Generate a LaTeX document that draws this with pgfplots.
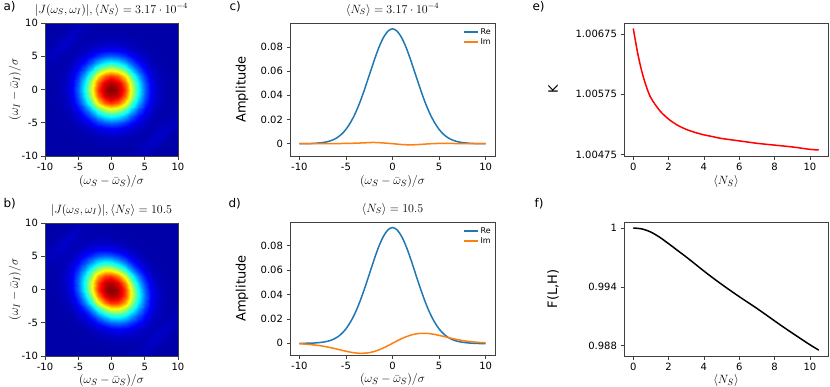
\documentclass[border=0pt]{standalone}
\usepackage[no-math]{fontspec}
\setmainfont{DejaVu Sans}
\usepackage{pgfplots}
\pgfplotsset{compat=1.18}
\definecolor{mplblue}{HTML}{1F77B4}
\definecolor{mplorange}{HTML}{FF7F0E}

\pgfplotsset{
  panel/.style={
    scale only axis, anchor=north west,
    axis line style={black!75, line width=0.6pt},
    tick style={black!75, line width=0.6pt},
    tick align=outside, major tick length=3.5pt,
    xtick pos=left, ytick pos=left,
    tick label style={font=\fontsize{10}{12}\selectfont},
    /pgf/number format/assume math mode=true,
    title style={font=\fontsize{11.5}{13}\selectfont, at={(axis description cs:0.5,1.03)}, anchor=base},
    xlabel style={font=\fontsize{12.5}{14}\selectfont, at={(axis description cs:0.5,-0.19)}, anchor=center},
    ylabel style={font=\fontsize{13}{15}\selectfont, anchor=center},
  },
  lower/.style={xlabel style={at={(axis description cs:0.5,-0.182)}}},
  heat/.style={panel, width=133pt, height=133pt, view={0}{90},
    xmin=-10, xmax=10, ymin=-10, ymax=10,
    xtick={-10,-5,0,5,10}, ytick={-10,-5,0,5,10},
    colormap/jet, point meta min=0, point meta max=1, axis on top,
    xlabel={$(\omega_S-\bar{\omega}_S)/\sigma$},
    ylabel={$(\omega_I-\bar{\omega}_I)/\sigma$},
    ylabel style={font=\fontsize{12.5}{14}\selectfont, at={(axis description cs:-0.226,0.5)}}},
  amp/.style={panel, width=205pt, height=133pt,
    xmin=-11, xmax=11, xtick={-10,-5,0,5,10},
    ytick={0,0.02,0.04,0.06,0.08}, yticklabels={0,0.02,0.04,0.06,0.08},
    scaled y ticks=false,
    xlabel={$(\omega_S-\bar{\omega}_S)/\sigma$}, ylabel={Amplitude},
    ylabel style={at={(axis description cs:-0.234,0.5)}},
    legend style={at={(axis description cs:0.995,0.985)}, anchor=north east, draw=none,
      fill=white, inner sep=1pt, row sep=-1pt, font=\fontsize{8}{9}\selectfont},
    legend cell align=left,
    legend image code/.code={\draw[##1, line width=1.9pt] (0pt,0pt) -- (14pt,0pt);}},
  ns/.style={panel, width=204pt, height=133pt,
    xmin=-0.525, xmax=11.025, xtick={0,2,4,6,8,10},
    xlabel={$\langle N_S\rangle$},
    ylabel style={at={(axis description cs:-0.348,0.5)}}},
}

\begin{document}
\begin{tikzpicture}
\useasboundingbox (0pt,0pt) rectangle (830pt,-386pt);

\node[font=\fontsize{12}{14}\selectfont, anchor=base west] at (0pt,-10pt) {a)};
\node[font=\fontsize{12}{14}\selectfont, anchor=base west] at (0pt,-207pt) {b)};
\node[font=\fontsize{12}{14}\selectfont, anchor=base west] at (226pt,-10pt) {c)};
\node[font=\fontsize{12}{14}\selectfont, anchor=base west] at (225pt,-207pt) {d)};
\node[font=\fontsize{12}{14}\selectfont, anchor=base west] at (529pt,-10pt) {e)};
\node[font=\fontsize{12}{14}\selectfont, anchor=base west] at (531pt,-207pt) {f)};

% a) joint spectral amplitude, low gain
\begin{axis}[heat, at={(45pt,-23pt)},
  title={$|J(\omega_S,\omega_I)|,\langle N_S\rangle=3.17\cdot10^{-4}$}]
\addplot3[surf, shader=interp, mesh/cols=21] coordinates {
(-10,-10,.040) (-9,-10,.040) (-8,-10,.040) (-7,-10,.040) (-6,-10,.040) (-5,-10,.040) (-4,-10,.040) (-3,-10,.040) (-2,-10,.040) (-1,-10,.040) (0,-10,.040) (1,-10,.040) (2,-10,.040) (3,-10,.045) (4,-10,.052) (5,-10,.050) (6,-10,.040) (7,-10,.040) (8,-10,.040) (9,-10,.040) (10,-10,.040)
(-10,-9,.040) (-9,-9,.040) (-8,-9,.040) (-7,-9,.040) (-6,-9,.040) (-5,-9,.040) (-4,-9,.040) (-3,-9,.040) (-2,-9,.041) (-1,-9,.041) (0,-9,.041) (1,-9,.041) (2,-9,.041) (3,-9,.040) (4,-9,.050) (5,-9,.065) (6,-9,.056) (7,-9,.040) (8,-9,.040) (9,-9,.040) (10,-9,.040)
(-10,-8,.040) (-9,-8,.040) (-8,-8,.040) (-7,-8,.040) (-6,-8,.040) (-5,-8,.040) (-4,-8,.042) (-3,-8,.043) (-2,-8,.045) (-1,-8,.047) (0,-8,.047) (1,-8,.047) (2,-8,.045) (3,-8,.043) (4,-8,.042) (5,-8,.056) (6,-8,.075) (7,-8,.060) (8,-8,.040) (9,-8,.040) (10,-8,.040)
(-10,-7,.040) (-9,-7,.040) (-8,-7,.040) (-7,-7,.040) (-6,-7,.041) (-5,-7,.043) (-4,-7,.047) (-3,-7,.052) (-2,-7,.058) (-1,-7,.064) (0,-7,.066) (1,-7,.064) (2,-7,.058) (3,-7,.052) (4,-7,.047) (5,-7,.043) (6,-7,.060) (7,-7,.080) (8,-7,.060) (9,-7,.040) (10,-7,.040)
(-10,-6,.040) (-9,-6,.040) (-8,-6,.040) (-7,-6,.041) (-6,-6,.043) (-5,-6,.049) (-4,-6,.060) (-3,-6,.076) (-2,-6,.095) (-1,-6,.110) (0,-6,.116) (1,-6,.110) (2,-6,.095) (3,-6,.076) (4,-6,.060) (5,-6,.049) (6,-6,.043) (7,-6,.060) (8,-6,.075) (9,-6,.056) (10,-6,.040)
(-10,-5,.040) (-9,-5,.040) (-8,-5,.040) (-7,-5,.043) (-6,-5,.049) (-5,-5,.064) (-4,-5,.090) (-3,-5,.129) (-2,-5,.172) (-1,-5,.207) (0,-5,.221) (1,-5,.207) (2,-5,.172) (3,-5,.129) (4,-5,.090) (5,-5,.064) (6,-5,.049) (7,-5,.043) (8,-5,.056) (9,-5,.065) (10,-5,.050)
(-10,-4,.040) (-9,-4,.040) (-8,-4,.042) (-7,-4,.047) (-6,-4,.060) (-5,-4,.090) (-4,-4,.144) (-3,-4,.221) (-2,-4,.304) (-1,-4,.369) (0,-4,.393) (1,-4,.369) (2,-4,.304) (3,-4,.221) (4,-4,.144) (5,-4,.090) (6,-4,.060) (7,-4,.047) (8,-4,.042) (9,-4,.050) (10,-4,.052)
(-10,-3,.040) (-9,-3,.040) (-8,-3,.043) (-7,-3,.052) (-6,-3,.076) (-5,-3,.129) (-4,-3,.221) (-3,-3,.345) (-2,-3,.477) (-1,-3,.576) (0,-3,.613) (1,-3,.576) (2,-3,.477) (3,-3,.345) (4,-3,.221) (5,-3,.129) (6,-3,.076) (7,-3,.052) (8,-3,.043) (9,-3,.040) (10,-3,.045)
(-10,-2,.040) (-9,-2,.041) (-8,-2,.045) (-7,-2,.058) (-6,-2,.095) (-5,-2,.172) (-4,-2,.304) (-3,-2,.477) (-2,-2,.652) (-1,-2,.778) (0,-2,.824) (1,-2,.778) (2,-2,.652) (3,-2,.477) (4,-2,.304) (5,-2,.172) (6,-2,.095) (7,-2,.058) (8,-2,.045) (9,-2,.041) (10,-2,.040)
(-10,-1,.040) (-9,-1,.041) (-8,-1,.047) (-7,-1,.064) (-6,-1,.110) (-5,-1,.207) (-4,-1,.369) (-3,-1,.576) (-2,-1,.778) (-1,-1,.916) (0,-1,.961) (1,-1,.916) (2,-1,.778) (3,-1,.576) (4,-1,.369) (5,-1,.207) (6,-1,.110) (7,-1,.064) (8,-1,.047) (9,-1,.041) (10,-1,.040)
(-10,0,.040) (-9,0,.041) (-8,0,.047) (-7,0,.066) (-6,0,.116) (-5,0,.221) (-4,0,.393) (-3,0,.613) (-2,0,.824) (-1,0,.961) (0,0,1.000) (1,0,.961) (2,0,.824) (3,0,.613) (4,0,.393) (5,0,.221) (6,0,.116) (7,0,.066) (8,0,.047) (9,0,.041) (10,0,.040)
(-10,1,.040) (-9,1,.041) (-8,1,.047) (-7,1,.064) (-6,1,.110) (-5,1,.207) (-4,1,.369) (-3,1,.576) (-2,1,.778) (-1,1,.916) (0,1,.961) (1,1,.916) (2,1,.778) (3,1,.576) (4,1,.369) (5,1,.207) (6,1,.110) (7,1,.064) (8,1,.047) (9,1,.041) (10,1,.040)
(-10,2,.040) (-9,2,.041) (-8,2,.045) (-7,2,.058) (-6,2,.095) (-5,2,.172) (-4,2,.304) (-3,2,.477) (-2,2,.652) (-1,2,.778) (0,2,.824) (1,2,.778) (2,2,.652) (3,2,.477) (4,2,.304) (5,2,.172) (6,2,.095) (7,2,.058) (8,2,.045) (9,2,.041) (10,2,.040)
(-10,3,.045) (-9,3,.040) (-8,3,.043) (-7,3,.052) (-6,3,.076) (-5,3,.129) (-4,3,.221) (-3,3,.345) (-2,3,.477) (-1,3,.576) (0,3,.613) (1,3,.576) (2,3,.477) (3,3,.345) (4,3,.221) (5,3,.129) (6,3,.076) (7,3,.052) (8,3,.043) (9,3,.040) (10,3,.040)
(-10,4,.052) (-9,4,.050) (-8,4,.042) (-7,4,.047) (-6,4,.060) (-5,4,.090) (-4,4,.144) (-3,4,.221) (-2,4,.304) (-1,4,.369) (0,4,.393) (1,4,.369) (2,4,.304) (3,4,.221) (4,4,.144) (5,4,.090) (6,4,.060) (7,4,.047) (8,4,.042) (9,4,.040) (10,4,.040)
(-10,5,.050) (-9,5,.065) (-8,5,.056) (-7,5,.043) (-6,5,.049) (-5,5,.064) (-4,5,.090) (-3,5,.129) (-2,5,.172) (-1,5,.207) (0,5,.221) (1,5,.207) (2,5,.172) (3,5,.129) (4,5,.090) (5,5,.064) (6,5,.049) (7,5,.043) (8,5,.040) (9,5,.040) (10,5,.040)
(-10,6,.040) (-9,6,.056) (-8,6,.075) (-7,6,.060) (-6,6,.043) (-5,6,.049) (-4,6,.060) (-3,6,.076) (-2,6,.095) (-1,6,.110) (0,6,.116) (1,6,.110) (2,6,.095) (3,6,.076) (4,6,.060) (5,6,.049) (6,6,.043) (7,6,.041) (8,6,.040) (9,6,.040) (10,6,.040)
(-10,7,.040) (-9,7,.040) (-8,7,.060) (-7,7,.080) (-6,7,.060) (-5,7,.043) (-4,7,.047) (-3,7,.052) (-2,7,.058) (-1,7,.064) (0,7,.066) (1,7,.064) (2,7,.058) (3,7,.052) (4,7,.047) (5,7,.043) (6,7,.041) (7,7,.040) (8,7,.040) (9,7,.040) (10,7,.040)
(-10,8,.040) (-9,8,.040) (-8,8,.040) (-7,8,.060) (-6,8,.075) (-5,8,.056) (-4,8,.042) (-3,8,.043) (-2,8,.045) (-1,8,.047) (0,8,.047) (1,8,.047) (2,8,.045) (3,8,.043) (4,8,.042) (5,8,.040) (6,8,.040) (7,8,.040) (8,8,.040) (9,8,.040) (10,8,.040)
(-10,9,.040) (-9,9,.040) (-8,9,.040) (-7,9,.040) (-6,9,.056) (-5,9,.065) (-4,9,.050) (-3,9,.040) (-2,9,.041) (-1,9,.041) (0,9,.041) (1,9,.041) (2,9,.041) (3,9,.040) (4,9,.040) (5,9,.040) (6,9,.040) (7,9,.040) (8,9,.040) (9,9,.040) (10,9,.040)
(-10,10,.040) (-9,10,.040) (-8,10,.040) (-7,10,.040) (-6,10,.040) (-5,10,.050) (-4,10,.052) (-3,10,.045) (-2,10,.040) (-1,10,.040) (0,10,.040) (1,10,.040) (2,10,.040) (3,10,.040) (4,10,.040) (5,10,.040) (6,10,.040) (7,10,.040) (8,10,.040) (9,10,.040) (10,10,.040)
};
\end{axis}

% b) joint spectral amplitude, high gain
\begin{axis}[heat, lower, at={(45pt,-223pt)},
  title={$|J(\omega_S,\omega_I)|,\langle N_S\rangle=10.5$}]
\addplot3[surf, shader=interp, mesh/cols=21] coordinates {
(-10,-10,.040) (-9,-10,.040) (-8,-10,.040) (-7,-10,.040) (-6,-10,.040) (-5,-10,.040) (-4,-10,.040) (-3,-10,.040) (-2,-10,.040) (-1,-10,.040) (0,-10,.040) (1,-10,.040) (2,-10,.040) (3,-10,.045) (4,-10,.052) (5,-10,.050) (6,-10,.040) (7,-10,.040) (8,-10,.040) (9,-10,.040) (10,-10,.040)
(-10,-9,.040) (-9,-9,.040) (-8,-9,.040) (-7,-9,.040) (-6,-9,.040) (-5,-9,.040) (-4,-9,.040) (-3,-9,.040) (-2,-9,.040) (-1,-9,.041) (0,-9,.042) (1,-9,.042) (2,-9,.042) (3,-9,.042) (4,-9,.050) (5,-9,.065) (6,-9,.056) (7,-9,.040) (8,-9,.040) (9,-9,.040) (10,-9,.040)
(-10,-8,.040) (-9,-8,.040) (-8,-8,.040) (-7,-8,.040) (-6,-8,.040) (-5,-8,.040) (-4,-8,.040) (-3,-8,.042) (-2,-8,.043) (-1,-8,.045) (0,-8,.047) (1,-8,.048) (2,-8,.048) (3,-8,.047) (4,-8,.045) (5,-8,.056) (6,-8,.075) (7,-8,.060) (8,-8,.040) (9,-8,.040) (10,-8,.040)
(-10,-7,.040) (-9,-7,.040) (-8,-7,.040) (-7,-7,.040) (-6,-7,.040) (-5,-7,.041) (-4,-7,.043) (-3,-7,.046) (-2,-7,.052) (-1,-7,.059) (0,-7,.065) (1,-7,.069) (2,-7,.068) (3,-7,.063) (4,-7,.055) (5,-7,.049) (6,-7,.060) (7,-7,.080) (8,-7,.060) (9,-7,.040) (10,-7,.040)
(-10,-6,.040) (-9,-6,.040) (-8,-6,.040) (-7,-6,.040) (-6,-6,.041) (-5,-6,.043) (-4,-6,.049) (-3,-6,.061) (-2,-6,.078) (-1,-6,.098) (0,-6,.115) (1,-6,.122) (2,-6,.117) (3,-6,.100) (4,-6,.080) (5,-6,.063) (6,-6,.050) (7,-6,.060) (8,-6,.075) (9,-6,.056) (10,-6,.040)
(-10,-5,.040) (-9,-5,.040) (-8,-5,.040) (-7,-5,.041) (-6,-5,.043) (-5,-5,.051) (-4,-5,.068) (-3,-5,.097) (-2,-5,.139) (-1,-5,.184) (0,-5,.220) (1,-5,.230) (2,-5,.213) (3,-5,.174) (4,-5,.129) (5,-5,.090) (6,-5,.063) (7,-5,.049) (8,-5,.056) (9,-5,.065) (10,-5,.050)
(-10,-4,.040) (-9,-4,.040) (-8,-4,.040) (-7,-4,.043) (-6,-4,.049) (-5,-4,.068) (-4,-4,.105) (-3,-4,.169) (-2,-4,.252) (-1,-4,.335) (0,-4,.392) (1,-4,.402) (2,-4,.363) (3,-4,.288) (4,-4,.202) (5,-4,.129) (6,-4,.080) (7,-4,.055) (8,-4,.045) (9,-4,.050) (10,-4,.052)
(-10,-3,.040) (-9,-3,.040) (-8,-3,.042) (-7,-3,.046) (-6,-3,.061) (-5,-3,.097) (-4,-3,.169) (-3,-3,.281) (-2,-3,.414) (-1,-3,.538) (0,-3,.612) (1,-3,.614) (2,-3,.544) (3,-3,.423) (4,-3,.288) (5,-3,.174) (6,-3,.100) (7,-3,.063) (8,-3,.047) (9,-3,.042) (10,-3,.045)
(-10,-2,.040) (-9,-2,.040) (-8,-2,.043) (-7,-2,.052) (-6,-2,.078) (-5,-2,.139) (-4,-2,.252) (-3,-2,.414) (-2,-2,.596) (-1,-2,.747) (0,-2,.823) (1,-2,.810) (2,-2,.709) (3,-2,.544) (4,-2,.363) (5,-2,.213) (6,-2,.117) (7,-2,.068) (8,-2,.048) (9,-2,.042) (10,-2,.040)
(-10,-1,.040) (-9,-1,.041) (-8,-1,.045) (-7,-1,.059) (-6,-1,.098) (-5,-1,.184) (-4,-1,.335) (-3,-1,.538) (-2,-1,.747) (-1,-1,.899) (0,-1,.961) (1,-1,.932) (2,-1,.810) (3,-1,.614) (4,-1,.402) (5,-1,.230) (6,-1,.122) (7,-1,.069) (8,-1,.048) (9,-1,.042) (10,-1,.040)
(-10,0,.040) (-9,0,.042) (-8,0,.047) (-7,0,.065) (-6,0,.115) (-5,0,.220) (-4,0,.392) (-3,0,.612) (-2,0,.823) (-1,0,.961) (0,0,1.000) (1,0,.961) (2,0,.823) (3,0,.612) (4,0,.392) (5,0,.220) (6,0,.115) (7,0,.065) (8,0,.047) (9,0,.042) (10,0,.040)
(-10,1,.040) (-9,1,.042) (-8,1,.048) (-7,1,.069) (-6,1,.122) (-5,1,.230) (-4,1,.402) (-3,1,.614) (-2,1,.810) (-1,1,.932) (0,1,.961) (1,1,.899) (2,1,.747) (3,1,.538) (4,1,.335) (5,1,.184) (6,1,.098) (7,1,.059) (8,1,.045) (9,1,.041) (10,1,.040)
(-10,2,.040) (-9,2,.042) (-8,2,.048) (-7,2,.068) (-6,2,.117) (-5,2,.213) (-4,2,.363) (-3,2,.544) (-2,2,.709) (-1,2,.810) (0,2,.823) (1,2,.747) (2,2,.596) (3,2,.414) (4,2,.252) (5,2,.139) (6,2,.078) (7,2,.052) (8,2,.043) (9,2,.040) (10,2,.040)
(-10,3,.045) (-9,3,.042) (-8,3,.047) (-7,3,.063) (-6,3,.100) (-5,3,.174) (-4,3,.288) (-3,3,.423) (-2,3,.544) (-1,3,.614) (0,3,.612) (1,3,.538) (2,3,.414) (3,3,.281) (4,3,.169) (5,3,.097) (6,3,.061) (7,3,.046) (8,3,.042) (9,3,.040) (10,3,.040)
(-10,4,.052) (-9,4,.050) (-8,4,.045) (-7,4,.055) (-6,4,.080) (-5,4,.129) (-4,4,.202) (-3,4,.288) (-2,4,.363) (-1,4,.402) (0,4,.392) (1,4,.335) (2,4,.252) (3,4,.169) (4,4,.105) (5,4,.068) (6,4,.049) (7,4,.043) (8,4,.040) (9,4,.040) (10,4,.040)
(-10,5,.050) (-9,5,.065) (-8,5,.056) (-7,5,.049) (-6,5,.063) (-5,5,.090) (-4,5,.129) (-3,5,.174) (-2,5,.213) (-1,5,.230) (0,5,.220) (1,5,.184) (2,5,.139) (3,5,.097) (4,5,.068) (5,5,.051) (6,5,.043) (7,5,.041) (8,5,.040) (9,5,.040) (10,5,.040)
(-10,6,.040) (-9,6,.056) (-8,6,.075) (-7,6,.060) (-6,6,.050) (-5,6,.063) (-4,6,.080) (-3,6,.100) (-2,6,.117) (-1,6,.122) (0,6,.115) (1,6,.098) (2,6,.078) (3,6,.061) (4,6,.049) (5,6,.043) (6,6,.041) (7,6,.040) (8,6,.040) (9,6,.040) (10,6,.040)
(-10,7,.040) (-9,7,.040) (-8,7,.060) (-7,7,.080) (-6,7,.060) (-5,7,.049) (-4,7,.055) (-3,7,.063) (-2,7,.068) (-1,7,.069) (0,7,.065) (1,7,.059) (2,7,.052) (3,7,.046) (4,7,.043) (5,7,.041) (6,7,.040) (7,7,.040) (8,7,.040) (9,7,.040) (10,7,.040)
(-10,8,.040) (-9,8,.040) (-8,8,.040) (-7,8,.060) (-6,8,.075) (-5,8,.056) (-4,8,.045) (-3,8,.047) (-2,8,.048) (-1,8,.048) (0,8,.047) (1,8,.045) (2,8,.043) (3,8,.042) (4,8,.040) (5,8,.040) (6,8,.040) (7,8,.040) (8,8,.040) (9,8,.040) (10,8,.040)
(-10,9,.040) (-9,9,.040) (-8,9,.040) (-7,9,.040) (-6,9,.056) (-5,9,.065) (-4,9,.050) (-3,9,.042) (-2,9,.042) (-1,9,.042) (0,9,.042) (1,9,.041) (2,9,.040) (3,9,.040) (4,9,.040) (5,9,.040) (6,9,.040) (7,9,.040) (8,9,.040) (9,9,.040) (10,9,.040)
(-10,10,.040) (-9,10,.040) (-8,10,.040) (-7,10,.040) (-6,10,.040) (-5,10,.050) (-4,10,.052) (-3,10,.045) (-2,10,.040) (-1,10,.040) (0,10,.040) (1,10,.040) (2,10,.040) (3,10,.040) (4,10,.040) (5,10,.040) (6,10,.040) (7,10,.040) (8,10,.040) (9,10,.040) (10,10,.040)
};
\end{axis}

% c) marginal amplitude, low gain
\begin{axis}[amp, at={(290pt,-23pt)}, ymin=-0.0102, ymax=0.0998,
  title={$\langle N_S\rangle=3.17\cdot10^{-4}$}]
\addplot[mplblue, line width=1.5pt, smooth] coordinates {
(-10,0) (-9.5,0) (-9,0.0001) (-8.5,0.0002) (-8,0.0005) (-7.5,0.0009) (-7,0.0016) (-6.5,0.0028) (-6,0.0047) (-5.5,0.0076) (-5,0.0118) (-4.5,0.0176) (-4,0.0250) (-3.5,0.0342) (-3,0.0449) (-2.5,0.0564) (-2,0.0681) (-1.5,0.0788) (-1,0.0874) (-0.5,0.0930) (0,0.0950) (0.5,0.0930) (1,0.0874) (1.5,0.0788) (2,0.0681) (2.5,0.0564) (3,0.0449) (3.5,0.0342) (4,0.0250) (4.5,0.0176) (5,0.0118) (5.5,0.0076) (6,0.0047) (6.5,0.0028) (7,0.0016) (7.5,0.0009) (8,0.0005) (8.5,0.0002) (9,0.0001) (9.5,0) (10,0)
};
\addlegendentry{Re}
\addplot[mplorange, line width=1.5pt, smooth] coordinates {
(-10,0) (-9,0) (-8,0) (-7,0.0001) (-6,0.0001) (-5,0.0002) (-4,0.0004) (-3,0.0007) (-2,0.0010) (-1,0.0006) (0,0) (1,-0.0007) (2,-0.0010) (3,-0.0006) (4,-0.0001) (5,0.0002) (6,0.0002) (7,0.0001) (8,0) (9,0) (10,0)
};
\addlegendentry{Im}
\end{axis}

% d) marginal amplitude, high gain
\begin{axis}[amp, lower, at={(290pt,-222pt)}, height=133pt, ymin=-0.0096, ymax=0.0995,
  title={$\langle N_S\rangle=10.5$}]
\addplot[mplblue, line width=1.5pt, smooth] coordinates {
(-10,0) (-9.5,0) (-9,0.0001) (-8.5,0.0002) (-8,0.0005) (-7.5,0.0009) (-7,0.0016) (-6.5,0.0028) (-6,0.0047) (-5.5,0.0076) (-5,0.0118) (-4.5,0.0176) (-4,0.0250) (-3.5,0.0342) (-3,0.0449) (-2.5,0.0564) (-2,0.0681) (-1.5,0.0788) (-1,0.0874) (-0.5,0.0930) (0,0.0950) (0.5,0.0930) (1,0.0874) (1.5,0.0788) (2,0.0681) (2.5,0.0564) (3,0.0449) (3.5,0.0342) (4,0.0250) (4.5,0.0176) (5,0.0118) (5.5,0.0076) (6,0.0047) (6.5,0.0028) (7,0.0016) (7.5,0.0009) (8,0.0004) (8.5,0.0001) (9,-0.0001) (9.5,-0.0002) (10,-0.0002)
};
\addlegendentry{Re}
\addplot[mplorange, line width=1.5pt, smooth] coordinates {
(-10,-0.0004) (-9.5,-0.0006) (-9,-0.0009) (-8.5,-0.0013) (-8,-0.0017) (-7.5,-0.0023) (-7,-0.0030) (-6.5,-0.0038) (-6,-0.0047) (-5.5,-0.0056) (-5,-0.0065) (-4.5,-0.0073) (-4,-0.0079) (-3.5,-0.0082) (-3,-0.0081) (-2.5,-0.0077) (-2,-0.0068) (-1.5,-0.0055) (-1,-0.0039) (-0.5,-0.0020) (0,0) (0.5,0.0020) (1,0.0039) (1.5,0.0055) (2,0.0068) (2.5,0.0077) (3,0.0081) (3.5,0.0082) (4,0.0079) (4.5,0.0073) (5,0.0065) (5.5,0.0056) (6,0.0047) (6.5,0.0038) (7,0.0030) (7.5,0.0023) (8,0.0017) (8.5,0.0013) (9,0.0009) (9.5,0.0006) (10,0.0004)
};
\addlegendentry{Im}
\end{axis}

% e) K versus mean photon number
\begin{axis}[ns, at={(624pt,-23pt)}, ymin=1.00473, ymax=1.00693,
  ytick={1.00475,1.00575,1.00675}, yticklabels={1.00475,1.00575,1.00675},
  ylabel={K}]
\addplot[red, line width=1.5pt, smooth] coordinates {
(0,1.00684) (0.25,1.00643) (0.5,1.00611) (0.75,1.00587) (1.0,1.00569) (1.5,1.00548) (2.0,1.00534) (2.5,1.00524) (3.0,1.00517) (3.5,1.00512) (4.0,1.00508) (4.5,1.00505) (5.0,1.00502) (6.0,1.00498) (7.0,1.00494) (8.0,1.00491) (9.0,1.00488) (10.0,1.00484) (10.5,1.00483)
};
\end{axis}

% f) fidelity versus mean photon number
\begin{axis}[ns, lower, at={(624pt,-222pt)}, height=134pt, ymin=0.98695, ymax=1.00061,
  ytick={0.988,0.994,1}, yticklabels={0.988,0.994,1},
  ylabel={F(L,H)}]
\addplot[black, line width=1.5pt, smooth] coordinates {
(0,1.0000) (0.5,0.99990) (1.0,0.99958) (1.5,0.99905) (2.0,0.99840) (2.5,0.99772) (3.0,0.99704) (3.5,0.99633) (4.0,0.99561) (4.5,0.99492) (5.0,0.99426) (5.5,0.99362) (6.0,0.99300) (6.5,0.99240) (7.0,0.99180) (7.5,0.99117) (8.0,0.99053) (8.5,0.98990) (9.0,0.98929) (9.5,0.98869) (10.0,0.98810) (10.5,0.98755)
};
\end{axis}
\end{tikzpicture}
\end{document}
